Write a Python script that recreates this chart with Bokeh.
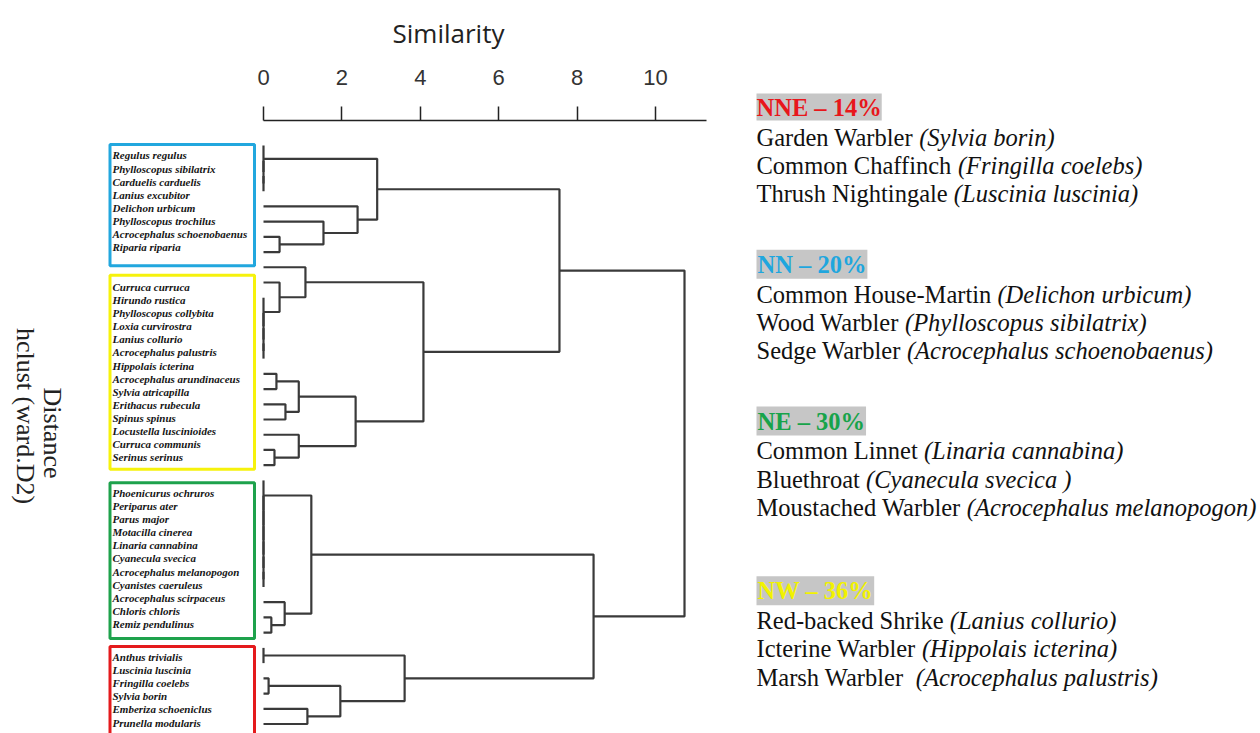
import math
from bokeh.plotting import figure
from bokeh.layouts import row
from bokeh.models import Range1d, FixedTicker, Label, ColumnDataSource
from bokeh.core.properties import value
from bokeh.embed import file_html
from bokeh.resources import INLINE

# ---------------- data ----------------
species = [
    "Regulus regulus", "Phylloscopus sibilatrix", "Carduelis carduelis", "Lanius excubitor",
    "Delichon urbicum", "Phylloscopus trochilus", "Acrocephalus schoenobaenus", "Riparia riparia",
    "Curruca curruca", "Hirundo rustica", "Phylloscopus collybita", "Loxia curvirostra",
    "Lanius collurio", "Acrocephalus palustris", "Hippolais icterina", "Acrocephalus arundinaceus",
    "Sylvia atricapilla", "Erithacus rubecula", "Spinus spinus", "Locustella luscinioides",
    "Curruca communis", "Serinus serinus",
    "Phoenicurus ochruros", "Periparus ater", "Parus major", "Motacilla cinerea",
    "Linaria cannabina", "Cyanecula svecica", "Acrocephalus melanopogon", "Cyanistes caeruleus",
    "Acrocephalus scirpaceus", "Chloris chloris", "Remiz pendulinus",
    "Anthus trivialis", "Luscinia luscinia", "Fringilla coelebs", "Sylvia borin",
    "Emberiza schoeniclus", "Prunella modularis",
]
group_sizes = [8, 14, 11, 6]
group_colors = ["#22a7de", "#f6f20c", "#1ea24c", "#e41a1c"]
group_gaps = [0.0, 2.0, 1.7, 1.5]

# hclust-style merges: negative = leaf (-(index+1)), positive = earlier merge (1-based)
merge_left = [-3, -2, -1, -7, -6, -5, 3,
              -14, -13, -12, -11, -10, -9, -16, -18, 14, -21, -20, 16, 13, 7,
              -29, -28, -27, -26, -25, -24, -23, -32, -31, 28,
              -34, -36, -38, 33, 32, 31, 21]
merge_right = [-4, 1, 2, -8, 4, 5, 6,
               -15, 8, 9, 10, 11, 12, -17, -19, 15, -22, 17, 18, 19, 20,
               -30, 22, 23, 24, 25, 26, 27, -33, 29, 30,
               -35, -37, -39, 34, 35, 36, 37]
merge_height = [0, 0, 0, 0.41, 1.53, 2.40, 2.90,
                0, 0, 0, 0, 0.41, 1.07, 0.33, 0.56, 0.90, 0.28, 0.90, 2.35, 4.08, 7.55,
                0, 0, 0, 0, 0, 0, 0, 0.20, 0.54, 1.22,
                0, 0.13, 1.12, 1.96, 3.60, 8.42, 10.74]

tick_values = [0, 2, 4, 6, 8, 10]

legend_titles = ["NNE – 14%", "NN – 20%", "NE – 30%", "NW – 36%"]
legend_title_colors = ["#e8161b", "#1fa6de", "#17a34a", "#f2f200"]
legend_common = [
    ["Garden Warbler ", "Common Chaffinch ", "Thrush Nightingale "],
    ["Common House-Martin ", "Wood Warbler ", "Sedge Warbler "],
    ["Common Linnet ", "Bluethroat ", "Moustached Warbler "],
    ["Red-backed Shrike ", "Icterine Warbler ", "Marsh Warbler  "],
]
legend_latin = [
    ["(Sylvia borin)", "(Fringilla coelebs)", "(Luscinia luscinia)"],
    ["(Delichon urbicum)", "(Phylloscopus sibilatrix)", "(Acrocephalus schoenobaenus)"],
    ["(Linaria cannabina)", "(Cyanecula svecica )", "(Acrocephalus melanopogon)"],
    ["(Lanius collurio)", "(Hippolais icterina)", "(Acrocephalus palustris)"],
]

# ---------------- layout constants ----------------
LW, RW, H = 730, 530, 733
TOP = 119
X0_PX, X_SCALE = 263.0, 39.2          # pixel of similarity 0, px per unit
LEAF0_PX, LEAF_STEP = 144.0, 15.25    # dendrogram leaf spacing
ROW0_PX, ROW_STEP = 154.0, 13.15      # label list spacing
BOX_TOP_PAD = [0.84, 0.87, 0.76, 0.8]
BOX_BOTTOM_PAD = [1.4, 0.9, 1.1, 4.0]

# Times-Roman advance widths (per 1000 em) for measuring the upright text parts
TIMES = {' ': 250, '-': 333, '(': 333, ')': 333,
         'A': 722, 'B': 667, 'C': 667, 'D': 722, 'E': 611, 'F': 556, 'G': 722, 'H': 722, 'I': 333,
         'J': 389, 'K': 722, 'L': 611, 'M': 889, 'N': 722, 'O': 722, 'P': 556, 'Q': 722, 'R': 667,
         'S': 556, 'T': 611, 'U': 722, 'V': 722, 'W': 944, 'X': 722, 'Y': 722, 'Z': 611,
         'a': 444, 'b': 500, 'c': 444, 'd': 500, 'e': 444, 'f': 333, 'g': 500, 'h': 500, 'i': 278,
         'j': 278, 'k': 500, 'l': 278, 'm': 778, 'n': 500, 'o': 500, 'p': 500, 'q': 500, 'r': 333,
         's': 389, 't': 278, 'u': 500, 'v': 500, 'w': 722, 'x': 500, 'y': 500, 'z': 444}
KERN = {'Wa': -80, 'Wo': -80, 'We': -80}


def text_width(s, size):
    w = sum(TIMES.get(ch, 500) for ch in s)
    w += sum(KERN.get(s[i:i + 2], 0) for i in range(len(s) - 1))
    return w * size / 1000.0


# ================= left: dendrogram =================
p = figure(width=LW, height=H, output_backend="svg", toolbar_location=None,
           x_axis_location="above", y_axis_location=None,
           x_range=Range1d((0 - X0_PX) / X_SCALE, (LW - X0_PX) / X_SCALE),
           y_range=Range1d((H - LEAF0_PX) / LEAF_STEP, (TOP - LEAF0_PX) / LEAF_STEP),
           min_border_left=0, min_border_right=0, min_border_bottom=0, min_border_top=TOP)
p.extra_x_ranges = {"px": Range1d(0, LW)}
p.extra_y_ranges = {
    "px": Range1d(H, TOP),
    "lab": Range1d((H - ROW0_PX) / ROW_STEP, (TOP - ROW0_PX) / ROW_STEP),
}
p.grid.visible = False
p.outline_line_color = None
p.background_fill_color = "white"
p.border_fill_color = "white"

p.title.text = "Similarity"
p.title.align = "left"
p.title.vertical_align = "top"
p.title.offset = 392
p.title.standoff = 28
p.title.text_font = "Open Sans"
p.title.text_font_size = "26px"
p.title.text_font_style = "normal"
p.title.text_color = "#222222"

ax = p.xaxis[0]
ax.ticker = FixedTicker(ticks=tick_values)
ax.bounds = (0, 11.3)
ax.major_label_text_font = "Liberation Sans"
ax.major_label_text_font_size = "22px"
ax.major_label_text_color = "#333333"
ax.major_label_standoff = 22
ax.axis_line_color = "#222222"
ax.axis_line_width = 1.5
ax.major_tick_line_color = "#222222"
ax.major_tick_line_width = 1.5
ax.major_tick_out = 14
ax.major_tick_in = 0
ax.minor_tick_out = 0
ax.minor_tick_in = 0

node_h, node_y = [], []


def child(c):
    if c < 0:
        return 0.0, float(-c - 1)
    return node_h[c - 1], node_y[c - 1]


seg_x, seg_y = [], []
for l, r, h in zip(merge_left, merge_right, merge_height):
    lx, ly = child(l)
    rx, ry = child(r)
    seg_x.append([lx, h, h, rx])
    seg_y.append([ly, ly, ry, ry])
    node_h.append(h)
    node_y.append((ly + ry) / 2.0)

p.multi_line(xs=seg_x, ys=seg_y, line_color="#3a3a3a", line_width=2.2)

rows, starts, ends = [], [], []
pos = 0.0
for g, size in enumerate(group_sizes):
    pos += group_gaps[g]
    starts.append(pos)
    for i in range(size):
        rows.append(pos + i)
    ends.append(pos + size - 1)
    pos += size

src = ColumnDataSource(dict(x=[112.0] * len(species), y=rows, text=species))
p.text(x="x", y="y", text="text", source=src, x_range_name="px", y_range_name="lab",
       text_font=value("Liberation Serif"), text_font_style="bold italic",
       text_font_size="11px", text_baseline="middle", text_align="left", text_color="#151515")

p.quad(left=[109.5] * 4, right=[254.0] * 4,
       top=[s - t for s, t in zip(starts, BOX_TOP_PAD)],
       bottom=[e + b for e, b in zip(ends, BOX_BOTTOM_PAD)],
       x_range_name="px", y_range_name="lab",
       fill_color=None, line_color=group_colors, line_width=3)

for txt, xx, yy in [("Distance", 52, 432), ("hclust (ward.D2)", 25, 415)]:
    p.add_layout(Label(x=xx, y=yy, text=txt, x_range_name="px", y_range_name="px",
                       angle=-math.pi / 2, text_align="center", text_baseline="middle",
                       text_font="Liberation Serif", text_font_size="26px",
                       text_color="#222222"))

# ================= right: legend text =================
LX = 756
FS = 24.5
q = figure(width=RW, height=H, output_backend="svg", toolbar_location=None,
           x_axis_location=None, y_axis_location=None,
           x_range=Range1d(LW, LW + RW), y_range=Range1d(H, TOP),
           min_border_left=0, min_border_right=0, min_border_bottom=0, min_border_top=TOP)
q.grid.visible = False
q.outline_line_color = None
q.background_fill_color = "white"
q.border_fill_color = "white"

# first heading sits above the aligned frame, so it is the figure title
q.title.text = legend_titles[0]
q.title.align = "left"
q.title.offset = LX - LW
q.title.standoff = 0
q.title.text_font = "Liberation Serif"
q.title.text_font_style = "bold"
q.title.text_font_size = f"{FS}px"
q.title.text_color = legend_title_colors[0]
q.title.background_fill_color = "#c6c6c6"

title_y = [106, 263, 420, 590]
for g in range(4):
    ty = title_y[g]
    if g > 0:
        q.add_layout(Label(x=LX, y=ty, text=legend_titles[g],
                           text_align="left", text_baseline="middle",
                           text_font="Liberation Serif", text_font_style="bold",
                           text_font_size=f"{FS}px", text_color=legend_title_colors[g],
                           background_fill_color="#c6c6c6", padding=1))
    for j in range(3):
        ly = ty + 30 + 28.3 * j
        common = legend_common[g][j]
        q.add_layout(Label(x=LX, y=ly, text=common.rstrip(" "),
                           text_align="left", text_baseline="middle",
                           text_font="Liberation Serif", text_font_size=f"{FS}px",
                           text_color="#111111"))
        q.add_layout(Label(x=LX + text_width(common, FS), y=ly, text=legend_latin[g][j],
                           text_align="left", text_baseline="middle",
                           text_font="Liberation Serif", text_font_style="italic",
                           text_font_size=f"{FS}px", text_color="#111111"))

layout = row(p, q)
open("out.html", "w").write(file_html(layout, INLINE))
